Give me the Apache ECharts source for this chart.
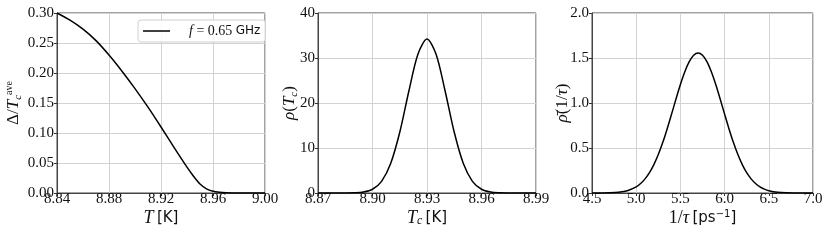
<!DOCTYPE html>
<html>
<head>
<meta charset="utf-8">
<script src="https://cdn.jsdelivr.net/npm/echarts@6/dist/echarts.min.js"></script>
<style>html,body{margin:0;padding:0;background:#fff;}#c{width:830px;height:240px;}</style>
</head>
<body>
<div id="c"></div>
<script>
// Panel 1: gap vs temperature
var T1 = [8.84, 8.85, 8.86, 8.87, 8.88, 8.89, 8.90, 8.91, 8.92, 8.93, 8.94, 8.945, 8.95, 8.955, 8.96, 8.965, 8.97, 8.98, 8.99, 9.00];
var gap1 = [0.300, 0.288, 0.273, 0.254, 0.230, 0.203, 0.174, 0.143, 0.110, 0.076, 0.043, 0.028, 0.015, 0.007, 0.003, 0.0012, 0.0004, 0.0, 0.0, 0.0];
// Panel 2: distribution of Tc
var Tc2 = [8.870, 8.875, 8.880, 8.885, 8.890, 8.895, 8.900, 8.905, 8.910, 8.915, 8.920, 8.925, 8.930, 8.935, 8.940, 8.945, 8.950, 8.955, 8.960, 8.965, 8.970, 8.975, 8.980, 8.985, 8.990];
var rho2 = [0.0, 0.0, 0.001, 0.008, 0.046, 0.217, 0.83, 2.59, 6.55, 13.50, 22.62, 30.85, 34.20, 30.85, 22.62, 13.50, 6.55, 2.59, 0.83, 0.217, 0.046, 0.008, 0.001, 0.0, 0.0];
// Panel 3: distribution of 1/tau
var inv3 = [4.5, 4.6, 4.7, 4.8, 4.9, 5.0, 5.05, 5.1, 5.15, 5.2, 5.25, 5.3, 5.35, 5.4, 5.45, 5.5, 5.55, 5.6, 5.65, 5.7, 5.75, 5.8, 5.85, 5.9, 5.95, 6.0, 6.05, 6.1, 6.15, 6.2, 6.25, 6.3, 6.35, 6.4, 6.45, 6.5, 6.6, 6.7, 6.8, 6.9, 7.0];
var rho3 = [0.0002, 0.0007, 0.0026, 0.0089, 0.026, 0.068, 0.105, 0.157, 0.226, 0.316, 0.427, 0.560, 0.712, 0.876, 1.044, 1.205, 1.347, 1.459, 1.530, 1.555, 1.530, 1.459, 1.347, 1.205, 1.044, 0.876, 0.712, 0.560, 0.427, 0.316, 0.226, 0.157, 0.105, 0.068, 0.043, 0.026, 0.0089, 0.0026, 0.0007, 0.0002, 0.0];
var legendLabel = 'f = 0.65 GHz';

function pairs(xs, ys) { return xs.map(function (x, i) { return [x, ys[i]]; }); }

var serifF = 'Liberation Serif';
var sansF = 'DejaVu Sans';
var tickLbl = { fontFamily: serifF, fontSize: 15, color: '#111' };
var nameRich = {
  i: { fontFamily: serifF, fontStyle: 'italic', fontSize: 18, color: '#111', lineHeight: 18 },
  m: { fontFamily: serifF, fontSize: 18, color: '#111', lineHeight: 18 },
  s: { fontFamily: sansF, fontSize: 15, color: '#111', lineHeight: 18 },
  sub: { fontFamily: serifF, fontStyle: 'italic', fontSize: 12, color: '#111', verticalAlign: 'bottom', lineHeight: 18 },
  ssup: { fontFamily: sansF, fontSize: 10, color: '#111', verticalAlign: 'top', lineHeight: 18 }
};
var yRich = {
  i: { fontFamily: serifF, fontStyle: 'italic', fontSize: 17, color: '#111', lineHeight: 20 },
  m: { fontFamily: serifF, fontSize: 17, color: '#111', lineHeight: 20 },
  sub: { fontFamily: serifF, fontStyle: 'italic', fontSize: 11, color: '#111', verticalAlign: 'bottom', lineHeight: 20 },
  sup: { fontFamily: serifF, fontSize: 10, color: '#111', verticalAlign: 'top', lineHeight: 20 }
};
var splitL = { show: true, lineStyle: { color: '#d3d3d3', width: 1 } };
var tick = { show: true, length: 3, lineStyle: { color: '#333' } };
var axLine = { show: true, lineStyle: { color: '#444', width: 1 } };

function xAx(idx, min, max, interval, dec, name) {
  return {
    type: 'value', gridIndex: idx, min: min, max: max, interval: interval,
    axisLine: axLine, axisTick: tick, splitLine: splitL,
    axisLabel: Object.assign({}, tickLbl, { margin: 0, lineHeight: 13, formatter: function (v) { return v.toFixed(dec); } }),
    name: name, nameLocation: 'middle', nameGap: 16, nameMoveOverlap: false,
    nameTextStyle: { rich: nameRich }
  };
}
function yAx(idx, min, max, interval, dec, name, gap) {
  return {
    type: 'value', gridIndex: idx, min: min, max: max, interval: interval,
    axisLine: axLine, axisTick: tick, splitLine: splitL,
    axisLabel: Object.assign({}, tickLbl, { margin: 3, formatter: function (v) { return v.toFixed(dec); } }),
    name: name, nameLocation: 'middle', nameGap: gap, nameRotate: 90, nameMoveOverlap: false,
    nameTextStyle: { rich: yRich }
  };
}

var chart = echarts.init(document.getElementById('c'), null, { renderer: 'canvas' });
chart.setOption({
  animation: false,
  backgroundColor: '#fff',
  grid: [
    { left: 57, top: 13, width: 208, height: 180, show: true, borderColor: '#444', borderWidth: 1, containLabel: false },
    { left: 318, top: 13, width: 218, height: 180, show: true, borderColor: '#444', borderWidth: 1, containLabel: false },
    { left: 592, top: 13, width: 221, height: 180, show: true, borderColor: '#444', borderWidth: 1, containLabel: false }
  ],
  xAxis: [
    xAx(0, 8.84, 9.00, 0.04, 2, '{i|T} {s|[K]}'),
    xAx(1, 8.87, 8.99, 0.03, 2, '{i|T}{sub|c} {s|[K]}'),
    xAx(2, 4.5, 7.0, 0.5, 1, '{m|1/}{i|τ} {s|[ps}{ssup|−1}{s|]}')
  ],
  yAxis: [
    yAx(0, 0, 0.30, 0.05, 2, '{m|Δ/}{i|T}{sub|c}{sup|ave}', 33),
    yAx(1, 0, 40, 10, 0, '{i|ρ}{m|(}{i|T}{sub|c}{m|)}', 18),
    yAx(2, 0, 2.0, 0.5, 1, '{i|ρ̄}{m|(1/}{i|τ}{m|)}', 19)
  ],
  legend: {
    show: true, left: 138, top: 20,
    data: [{ name: legendLabel, icon: 'rect' }],
    itemWidth: 27, itemHeight: 1.5, itemGap: 8,
    padding: [4, 5, 4, 5],
    backgroundColor: 'rgba(255,255,255,0.85)',
    borderColor: '#d0d0d0', borderWidth: 1, borderRadius: 3,
    formatter: function () { return '{i|f}{m| = 0.65 }{s|GHz}'; },
    textStyle: {
      rich: {
        i: { fontFamily: serifF, fontStyle: 'italic', fontSize: 14, color: '#111', padding: [0, 0, 0, 14] },
        m: { fontFamily: serifF, fontSize: 14, color: '#111' },
        s: { fontFamily: sansF, fontSize: 12, color: '#111' }
      }
    }
  },
  series: [
    { name: legendLabel, type: 'line', xAxisIndex: 0, yAxisIndex: 0, data: pairs(T1, gap1), showSymbol: false, symbol: 'none', smooth: 0.3, lineStyle: { color: '#000', width: 1.5 }, itemStyle: { color: '#000' } },
    { name: 'rhoTc', type: 'line', xAxisIndex: 1, yAxisIndex: 1, data: pairs(Tc2, rho2), showSymbol: false, symbol: 'none', smooth: 0.3, lineStyle: { color: '#000', width: 1.5 } },
    { name: 'rhoTau', type: 'line', xAxisIndex: 2, yAxisIndex: 2, data: pairs(inv3, rho3), showSymbol: false, symbol: 'none', smooth: 0.3, lineStyle: { color: '#000', width: 1.5 } }
  ]
});
</script>
</body>
</html>
